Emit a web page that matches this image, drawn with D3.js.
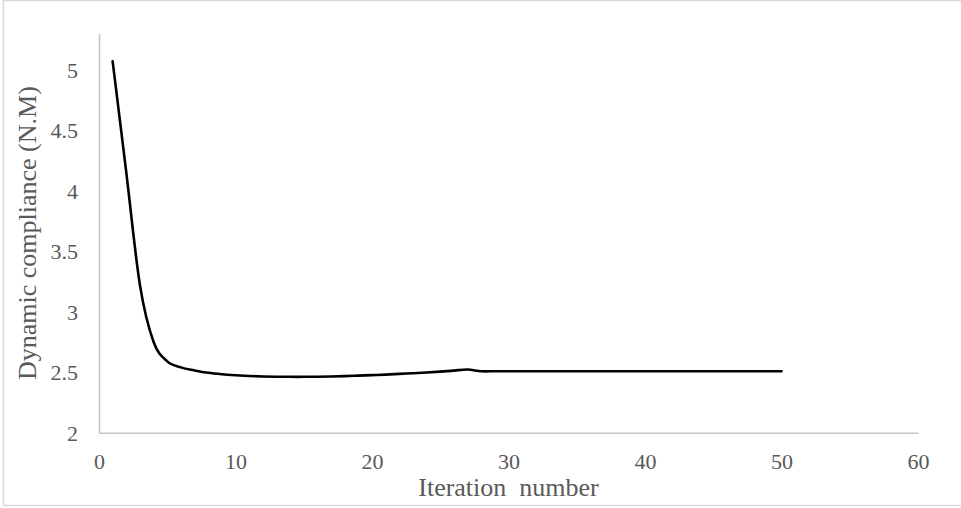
<!DOCTYPE html>
<html>
<head>
<meta charset="utf-8">
<script src="https://cdn.jsdelivr.net/npm/d3@7/dist/d3.min.js"></script>
<style>
  html, body { margin: 0; padding: 0; background: #ffffff; }
  svg { display: block; }
  text { font-family: "Liberation Serif", "Times New Roman", serif; fill: #595959; }
</style>
</head>
<body>
<svg id="chart" width="961" height="508"></svg>
<script>
// Iteration history of the dynamic compliance
const iterations = [1, 2, 3, 4, 5, 6, 7, 8, 9, 10,
  11, 12, 13, 14, 15, 16, 17, 18, 19, 20,
  21, 22, 23, 24, 25, 26, 27, 28, 29, 30,
  31, 32, 33, 34, 35, 36, 37, 38, 39, 40,
  41, 42, 43, 44, 45, 46, 47, 48, 49, 50];
const compliance = [5.07, 4.15, 3.22, 2.75, 2.59, 2.54, 2.515, 2.495, 2.483, 2.475,
  2.469, 2.465, 2.463, 2.462, 2.462, 2.463, 2.465, 2.468, 2.472, 2.476,
  2.48, 2.486, 2.492, 2.498, 2.505, 2.513, 2.522, 2.508, 2.508, 2.508,
  2.508, 2.508, 2.508, 2.508, 2.508, 2.508, 2.508, 2.508, 2.508, 2.508,
  2.508, 2.508, 2.508, 2.508, 2.508, 2.508, 2.508, 2.508, 2.508, 2.508];
const xTicks = [0, 10, 20, 30, 40, 50, 60];
const yTicks = [2, 2.5, 3, 3.5, 4, 4.5, 5];
const xTitle = "Iteration\u00a0 number";
const yTitle = "Dynamic compliance (N.M)";

const svg = d3.select("#chart");

// chart area frame
svg.append("rect")
  .attr("x", 3.5).attr("y", 0.5)
  .attr("width", 970).attr("height", 505)
  .attr("fill", "none").attr("stroke", "#d9d9d9").attr("stroke-width", 1.5);

const x = d3.scaleLinear().domain([0, 60]).range([99, 918]);
const y = d3.scaleLinear().domain([2, 5.3]).range([432.7, 33.5]);

// axes (lines only, no tick marks)
const xAxis = svg.append("g")
  .attr("transform", `translate(0,${y(2)})`)
  .call(d3.axisBottom(x).tickValues(xTicks).tickSize(0).tickPadding(0).tickFormat(d3.format("d")));
xAxis.select(".domain").attr("stroke", "#c4c4c4").attr("stroke-width", 1.6);
xAxis.selectAll("text")
  .attr("y", 36.5).attr("dy", null)
  .style("font-size", "22px").style("font-family", "Liberation Serif").attr("fill", "#595959");

const yAxis = svg.append("g")
  .attr("transform", `translate(${x(0)},0)`)
  .call(d3.axisLeft(y).tickValues(yTicks).tickSize(0).tickPadding(0).tickFormat(d => String(d)));
yAxis.select(".domain").attr("stroke", "#c4c4c4").attr("stroke-width", 1.6);
yAxis.selectAll("text")
  .attr("x", -21).attr("dy", "0.34em")
  .style("font-size", "22px").style("font-family", "Liberation Serif").attr("fill", "#595959");

// compliance curve
const line = d3.line()
  .x((d, i) => x(iterations[i]))
  .y(d => y(d))
  .curve(d3.curveCardinal.tension(0));

svg.append("path")
  .datum(compliance)
  .attr("d", line)
  .attr("fill", "none")
  .attr("stroke", "#000000")
  .attr("stroke-width", 2.6)
  .attr("stroke-linejoin", "round")
  .attr("stroke-linecap", "round");

// axis titles
svg.append("text")
  .attr("x", (x(0) + x(60)) / 2).attr("y", 496)
  .attr("text-anchor", "middle")
  .style("font-size", "26px")
  .text(xTitle);

svg.append("text")
  .attr("transform", `translate(36,${(y(2) + y(5.3)) / 2}) rotate(-90)`)
  .attr("text-anchor", "middle")
  .style("font-size", "26px")
  .text(yTitle);
</script>
</body>
</html>
